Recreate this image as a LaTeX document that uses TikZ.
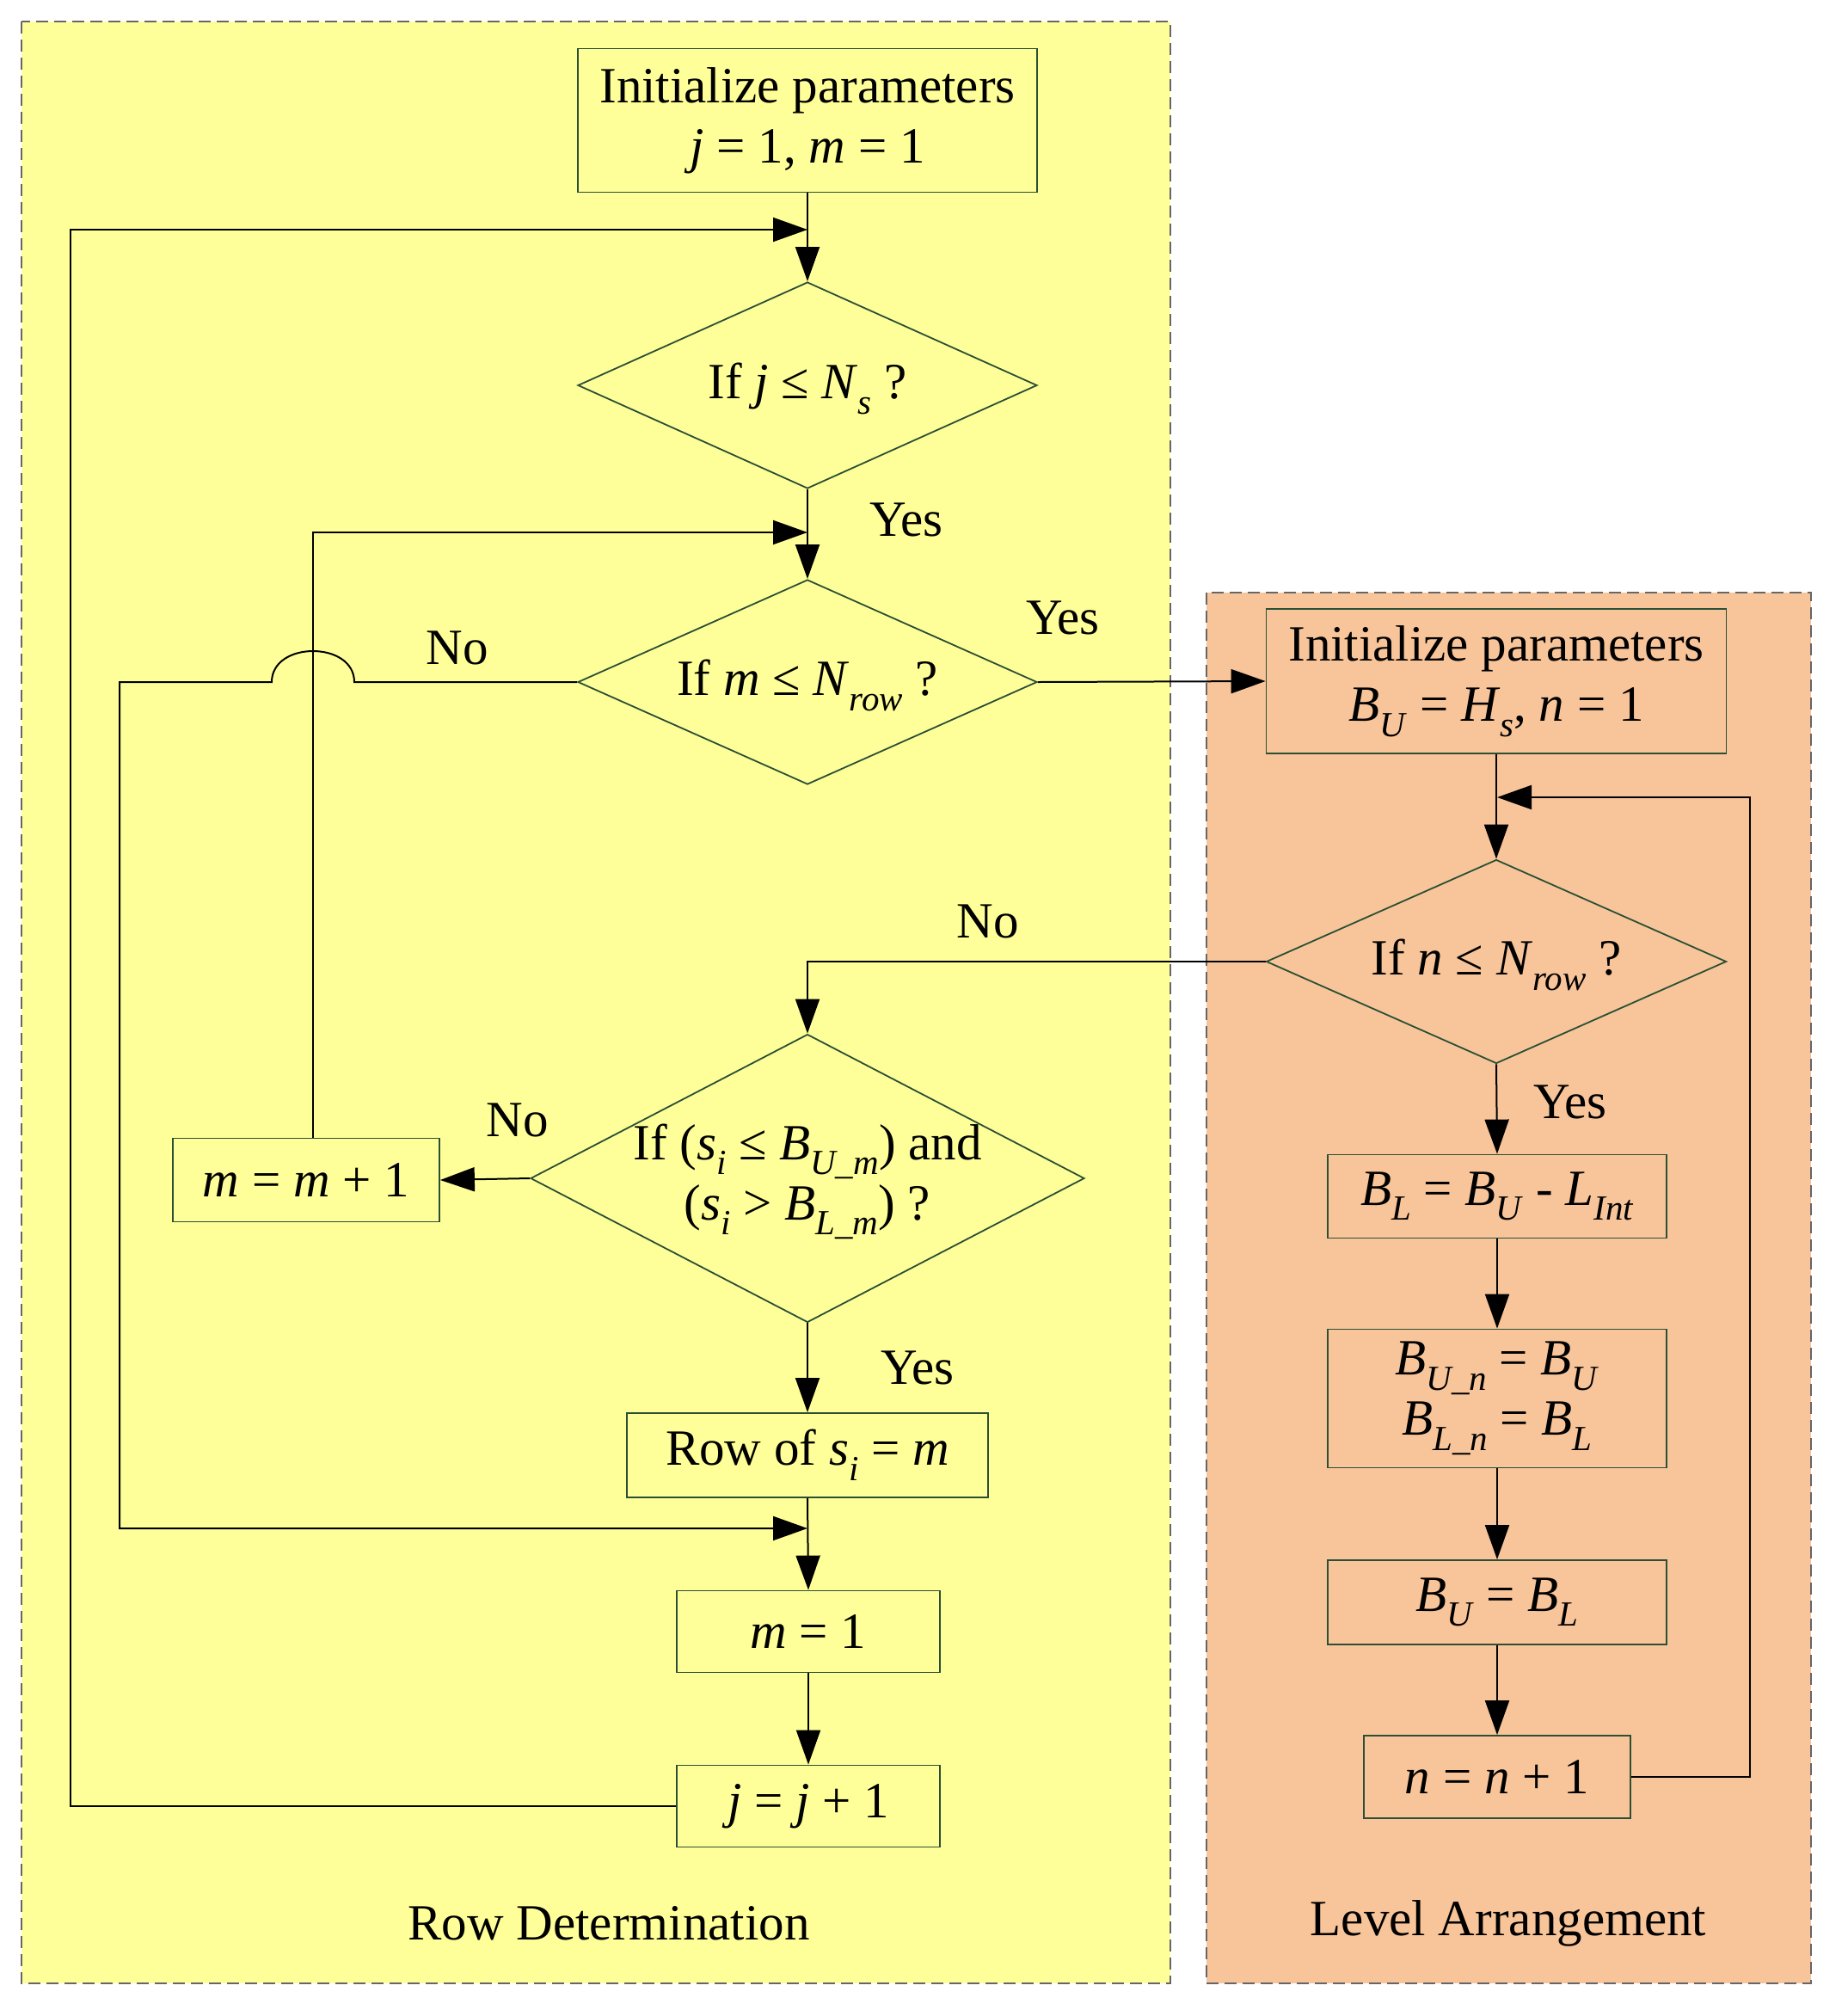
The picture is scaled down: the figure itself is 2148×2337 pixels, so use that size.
\documentclass[tikz,border=0pt]{standalone}
\usepackage{fontspec}
\setmainfont{Liberation Serif}
\usetikzlibrary{arrows.meta,shapes.geometric}
\definecolor{panelY}{HTML}{FFFF99}
\definecolor{panelO}{HTML}{F8C59A}
\definecolor{boxline}{HTML}{2A4F35}
\newcommand\vi[1]{\textit{#1}}
\newcommand\sub[1]{\raisebox{-0.3em}{\fontsize{41}{43}\selectfont\textit{#1}}}
\begin{document}
\begin{tikzpicture}[x=1pt,y=-1pt,
  font=\fontsize{59}{70}\selectfont,
  panel/.style={draw=black!60, dash pattern=on 14pt off 7pt, line width=1.6pt},
  proc/.style={rectangle, draw=boxline, line width=1.8pt, inner sep=0pt, align=center},
  dec/.style={diamond, draw=boxline, line width=1.8pt, inner sep=0pt},
  conn/.style={line width=2pt, -{Triangle[length=40pt,width=28pt]}},
  lbl/.style={inner sep=0pt, align=center}]
\useasboundingbox (0,0) rectangle (2148,2337);
% panels
\fill[panelY] (25,25) rectangle (1361,2306);
\draw[panel] (25,25) rectangle (1361,2306);
\fill[panelO] (1403,689) rectangle (2106,2306);
\draw[panel] (1403,689) rectangle (2106,2306);
\node[lbl] (rowdet) at (708,2236) {Row Determination};
\node[lbl] (levarr) at (1754,2236) {Level Arrangement};

% left column
\node[proc, minimum width=534pt, minimum height=167pt] (init1) at (939,140) {Initialize parameters\\\vi{j} = 1, \vi{m} = 1};
\node[dec, minimum width=534pt, minimum height=240pt] (d1) at (939,448) {};
\node[lbl] (d1t) at (939,452) {If \vi{j} ≤ \vi{N}\sub{s} ?};
\node[dec, minimum width=534pt, minimum height=238pt] (d2) at (939,793) {};
\node[lbl] (d2t) at (939,797) {If \vi{m} ≤ \vi{N}\sub{row} ?};
\node[dec, minimum width=644pt, minimum height=335pt] (d4) at (939,1370) {};
\node[lbl] (d4t) at (939,1374) {If (\vi{s}\sub{i} ≤ \vi{B}\sub{U\_m}) and\\(\vi{s}\sub{i} {>} \vi{B}\sub{L\_m}) ?};
\node[proc, minimum width=310pt, minimum height=97pt] (mm1) at (356,1372) {\vi{m} = \vi{m} + 1};
\node[proc, minimum width=420pt, minimum height=98pt] (row) at (939,1692) {Row of \vi{s}\sub{i} = \vi{m}};
\node[proc, minimum width=306pt, minimum height=95pt] (m1) at (940,1897) {\vi{m} = 1};
\node[proc, minimum width=306pt, minimum height=95pt] (jj1) at (940,2100) {\vi{j} = \vi{j} + 1};

% right column
\node[proc, minimum width=535pt, minimum height=168pt] (init2) at (1740,792) {Initialize parameters\\\vi{B}\sub{U} = \vi{H}\sub{s}, \vi{n} = 1};
\node[dec, minimum width=535pt, minimum height=237pt] (d3) at (1740,1118) {};
\node[lbl] (d3t) at (1740,1122) {If \vi{n} ≤ \vi{N}\sub{row} ?};
\node[proc, minimum width=394pt, minimum height=97pt] (BL) at (1741,1391) {\vi{B}\sub{L} = \vi{B}\sub{U} - \vi{L}\sub{Int}};
\node[proc, minimum width=394pt, minimum height=161pt] (BUn) at (1741,1626) {\vi{B}\sub{U\_n} = \vi{B}\sub{U}\\\vi{B}\sub{L\_n} = \vi{B}\sub{L}};
\node[proc, minimum width=394pt, minimum height=98pt] (BUBL) at (1741,1863) {\vi{B}\sub{U} = \vi{B}\sub{L}};
\node[proc, minimum width=310pt, minimum height=96pt] (np1) at (1741,2066) {\vi{n} = \vi{n} + 1};

% junction coordinates
\coordinate (jA) at (939,267);
\coordinate (jB) at (939,619);
\coordinate (jC) at (939,1777);
\coordinate (jD) at (1741,927);

% connectors
\draw[conn] (init1.south) -- (d1.north);
\draw[conn] (d1.south) -- (d2.north);
\draw[conn] (jj1.west) -- (82,2100) -- (82,267) -- (jA);
\draw[conn] ([xshift=8pt]mm1.north) |- (jB);
\draw[conn] (d2.east) -- (init2.west);
\draw[conn] (d2.west) -- (412,793) .. controls (412,745) and (316,745) .. (316,793) -- (139,793) -- (139,1777) -- (jC);
\draw[conn] (init2.south) -- (d3.north);
\draw[conn] (np1.east) -- (2035,2066) -- (2035,927) -- (jD);
\draw[conn] (d3.south) -- (BL.north);
\draw[conn] (BL.south) -- (BUn.north);
\draw[conn] (BUn.south) -- (BUBL.north);
\draw[conn] (BUBL.south) -- (np1.north);
\draw[conn] (d3.west) -| (d4.north);
\draw[conn] (d4.west) -- (mm1.east);
\draw[conn] (d4.south) -- (row.north);
\draw[conn] (row.south) -- (m1.north);
\draw[conn] (m1.south) -- (jj1.north);

% labels
\node[lbl] (yes1) at (1054,604) {Yes};
\node[lbl] (yes2) at (1236,718) {Yes};
\node[lbl] (no1) at (532,753) {No};
\node[lbl] (no3) at (1149,1071) {No};
\node[lbl] (no4) at (602,1302) {No};
\node[lbl] (yes4) at (1067,1590) {Yes};
\node[lbl] (yes3) at (1826,1281) {Yes};
\end{tikzpicture}
\end{document}
